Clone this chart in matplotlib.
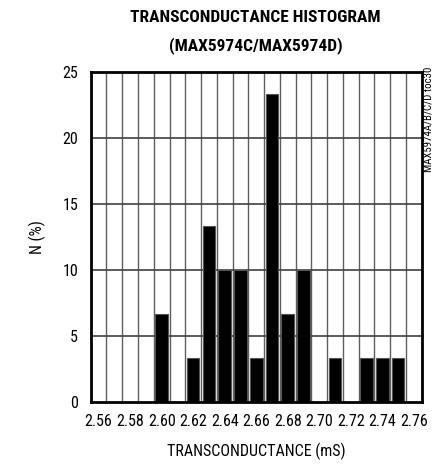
import matplotlib.pyplot as plt
import numpy as np

plt.rcParams['font.family'] = ['Roboto Condensed', 'Archivo Narrow', 'DejaVu Sans']

# bin centers (mS) and percentage of units per bin
bin_centers = np.round(np.arange(2.56, 2.765, 0.01), 2)
percent = [0, 0, 0, 0, 6.67, 0, 3.33, 13.33, 10, 10, 3.33,
           23.33, 6.67, 10, 0, 3.33, 0, 3.33, 3.33, 3.33, 0]
tick_vals = [2.56, 2.58, 2.60, 2.62, 2.64, 2.66, 2.68, 2.70, 2.72, 2.74, 2.76]
y_ticks = [0, 5, 10, 15, 20, 25]

fig = plt.figure(figsize=(4.33, 4.66), dpi=100)
ax = fig.add_axes([0.2095, 0.138, 0.7645, 0.708])

ax.bar(bin_centers, percent, width=0.008, color="black",
       edgecolor="#555555", linewidth=0.8, zorder=3)

ax.set_xlim(2.555, 2.765)
ax.set_ylim(0, 25)

# grid: one column per bin, horizontal every 5 %
for b in np.arange(2.555, 2.766, 0.01):
    ax.axvline(b, color="#606060", linewidth=1.0, zorder=1)
for yv in y_ticks[1:-1]:
    ax.axhline(yv, color="#404040", linewidth=1.2, zorder=1)

ax.set_xticks(tick_vals)
ax.set_xticklabels([f"{v:.2f}" for v in tick_vals], fontsize=11.5)
ax.set_yticks(y_ticks)
ax.set_yticklabels([str(v) for v in y_ticks], fontsize=11.5)
ax.tick_params(length=0, pad=9)

for s in ax.spines.values():
    s.set_linewidth(2.0)
    s.set_color("black")
    s.set_zorder(4)

ax.set_xlabel("TRANSCONDUCTANCE (mS)", fontsize=11.5, labelpad=10)
ax.set_ylabel("N (%)", fontsize=11.5, labelpad=12)

fig.text(0.59, 0.962, "TRANSCONDUCTANCE HISTOGRAM", ha="center", va="center",
         fontsize=12.5, fontweight="bold")
fig.text(0.59, 0.903, "(MAX5974C/MAX5974D)", ha="center", va="center",
         fontsize=12.5, fontweight="bold")
fig.text(0.99, 0.857, "MAX5974A/B/C/D toc30", rotation=90, ha="center", va="top",
         fontsize=7.8)

fig.savefig("out.png", dpi=100)
